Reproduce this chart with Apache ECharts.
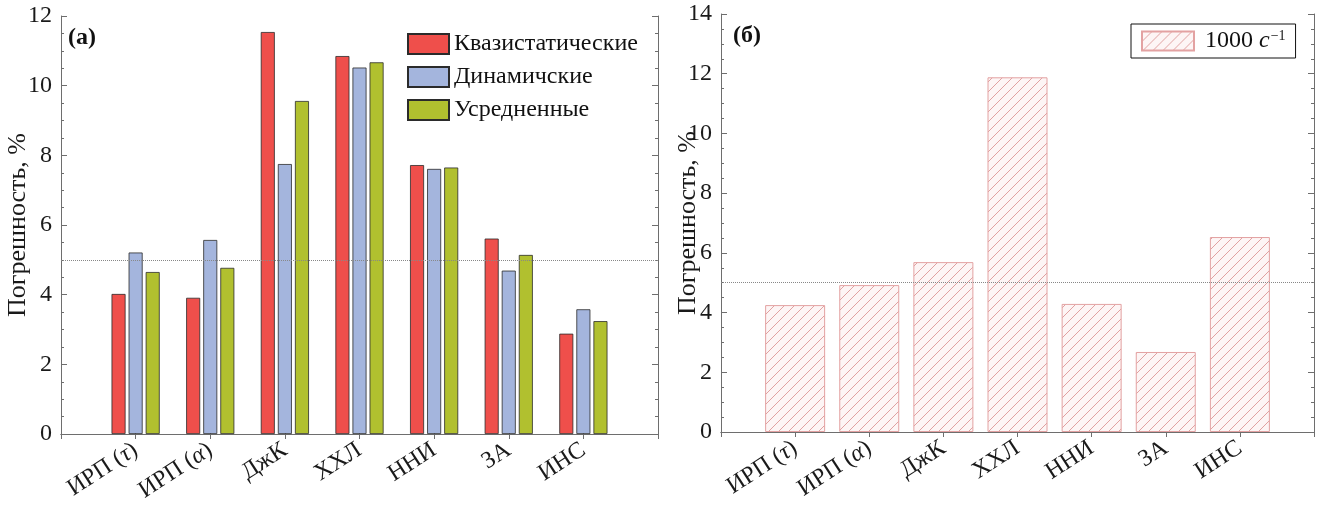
<!DOCTYPE html>
<html>
<head>
<meta charset="utf-8">
<script src="https://cdn.jsdelivr.net/npm/echarts@6/dist/echarts.min.js"></script>
<style>
  html, body { margin: 0; padding: 0; background: #fff; }
  #chart { width: 1325px; height: 510px; }
</style>
</head>
<body>
<div id="chart"></div>
<script>
// Methods compared
const categories = ['ИРП (τ)', 'ИРП (α)', 'ДжК', 'ХХЛ', 'ННИ', 'ЗА', 'ИНС'];

// Panel (a): error, % for three kinds of data
const seriesNamesA = ['Квазистатические', 'Динамичские', 'Усредненные'];
const quasiStatic = [4.02, 3.91, 11.54, 10.85, 7.72, 5.61, 2.88];
const dynamic     = [5.21, 5.57, 7.75, 10.52, 7.61, 4.69, 3.58];
const averaged    = [4.65, 4.77, 9.56, 10.67, 7.65, 5.14, 3.24];

// Panel (б): error, % at strain rate 1000 1/s
const seriesNameB = '1000 c⁻¹';
const rate1000 = [4.25, 4.92, 5.69, 11.88, 4.29, 2.68, 6.53];

// Axis ranges
const yRangeA = { min: 0, max: 12, interval: 2 };
const yRangeB = { min: 0, max: 14, interval: 2 };
const threshold = 5;
const yAxisName = 'Погрешность, %';
const panelLabels = ['(a)', '(б)'];

const FONT = 'Liberation Serif';
const AXIS_COLOR = '#6e6e6e';
const colorsA = ['#ef4f4b', '#a4b5dd', '#b1c02f'];

// Categories sit at x = 1..7 with empty slots at 0 and 8
const xData = ['', ...categories, ''];
const pad = arr => ['-', ...arr, '-'];

function hatchPattern() {
  const s = 10;
  const cv = document.createElement('canvas');
  cv.width = s; cv.height = s;
  const g = cv.getContext('2d');
  g.fillStyle = '#fdf5f5';
  g.fillRect(0, 0, s, s);
  g.strokeStyle = '#d98b8b';
  g.lineWidth = 0.8;
  g.beginPath();
  for (const o of [-s, 0, s]) { g.moveTo(o, s); g.lineTo(o + s, 0); }
  g.stroke();
  return cv;
}

function catLabel(v) {
  return v ? v.replace(/([τα])/g, '{g|$1}') : '';
}

function xAxes(gridIndex) {
  const common = {
    gridIndex, type: 'category', data: xData, boundaryGap: false,
    axisLine: { show: true, lineStyle: { color: AXIS_COLOR, width: 1 } },
    axisTick: { show: true, inside: true, length: 5, interval: 0, lineStyle: { color: AXIS_COLOR } },
    splitLine: { show: false }
  };
  return [
    Object.assign({}, common, {
      position: 'bottom',
      axisLabel: {
        interval: 0, rotate: 33, margin: 14, color: '#1a1a1a',
        fontFamily: FONT, fontSize: 24, formatter: catLabel,
        rich: { g: { fontFamily: FONT, fontSize: 24, fontStyle: 'italic', color: '#1a1a1a' } }
      }
    }),
    Object.assign({}, common, { position: 'top', axisLabel: { show: false } })
  ];
}

function yAxes(gridIndex, range, nameGap) {
  const common = {
    gridIndex, type: 'value', min: range.min, max: range.max, interval: range.interval,
    axisLine: { show: true, lineStyle: { color: AXIS_COLOR, width: 1 } },
    axisTick: { show: true, inside: true, length: 6, lineStyle: { color: AXIS_COLOR } },
    minorTick: { show: true, splitNumber: 4, length: 3, lineStyle: { color: AXIS_COLOR } },
    splitLine: { show: false }
  };
  return [
    Object.assign({}, common, {
      position: 'left',
      axisLabel: { margin: 9, color: '#1a1a1a', fontFamily: FONT, fontSize: 24 },
      name: yAxisName, nameLocation: 'middle', nameGap, nameRotate: 90,
      nameMoveOverlap: false,
      nameTextStyle: { fontFamily: FONT, fontSize: 26, color: '#1a1a1a' }
    }),
    Object.assign({}, common, { position: 'right', axisLabel: { show: false } })
  ];
}

const thresholdLine = {
  silent: true, symbol: 'none', label: { show: false },
  lineStyle: { type: 'dotted', color: '#888', width: 1 },
  data: [{ yAxis: threshold }]
};

const seriesA = [quasiStatic, dynamic, averaged].map((vals, i) => ({
  name: seriesNamesA[i], type: 'bar', xAxisIndex: 0, yAxisIndex: 0,
  data: pad(vals), barWidth: 14, barGap: '22%',
  itemStyle: { color: colorsA[i], borderColor: '#2b2b2b', borderWidth: 0.8 },
  markLine: i === 0 ? thresholdLine : undefined
}));

const seriesB = {
  name: seriesNameB, type: 'bar', xAxisIndex: 2, yAxisIndex: 2,
  data: pad(rate1000), barWidth: 60,
  itemStyle: { color: { image: hatchPattern(), repeat: 'repeat' }, borderColor: '#e3a2a2', borderWidth: 1 },
  markLine: thresholdLine
};

const chart = echarts.init(document.getElementById('chart'), null, { renderer: 'canvas' });
chart.setOption({
  animation: false,
  backgroundColor: '#fff',
  grid: [
    { left: 61, right: 1325 - 658, top: 16, bottom: 510 - 434 },
    { left: 721, right: 1325 - 1314, top: 14, bottom: 510 - 432 }
  ],
  xAxis: [...xAxes(0), ...xAxes(1)],
  yAxis: [...yAxes(0, yRangeA, 30), ...yAxes(1, yRangeB, 20)],
  title: [
    { text: panelLabels[0], left: 68, top: 26, padding: 0,
      textStyle: { fontFamily: FONT, fontWeight: 'bold', fontSize: 24, color: '#111' } },
    { text: panelLabels[1], left: 733, top: 24, padding: 0,
      textStyle: { fontFamily: FONT, fontWeight: 'bold', fontSize: 24, color: '#111' } }
  ],
  legend: [
    {
      data: seriesNamesA, orient: 'vertical', left: 407, top: 32, padding: 0,
      itemWidth: 41, itemHeight: 20, itemGap: 9, icon: 'rect',
      textStyle: { fontFamily: FONT, fontSize: 24, color: '#111' }
    },
    {
      data: [seriesNameB], left: 1131, top: 24, padding: [5, 10, 5, 10],
      borderColor: '#111', borderWidth: 1,
      itemWidth: 52, itemHeight: 19, icon: 'rect',
      formatter: () => '1000 {i|c}{s|−1}',
      textStyle: {
        fontFamily: FONT, fontSize: 24, color: '#111', padding: [0, 0, 0, 6],
        rich: {
          i: { fontFamily: FONT, fontSize: 24, fontStyle: 'italic', color: '#111' },
          s: { fontFamily: FONT, fontSize: 14, color: '#111', verticalAlign: 'top', padding: [0, 0, 0, 1] }
        }
      }
    }
  ],
  series: [...seriesA, seriesB]
});
</script>
</body>
</html>
